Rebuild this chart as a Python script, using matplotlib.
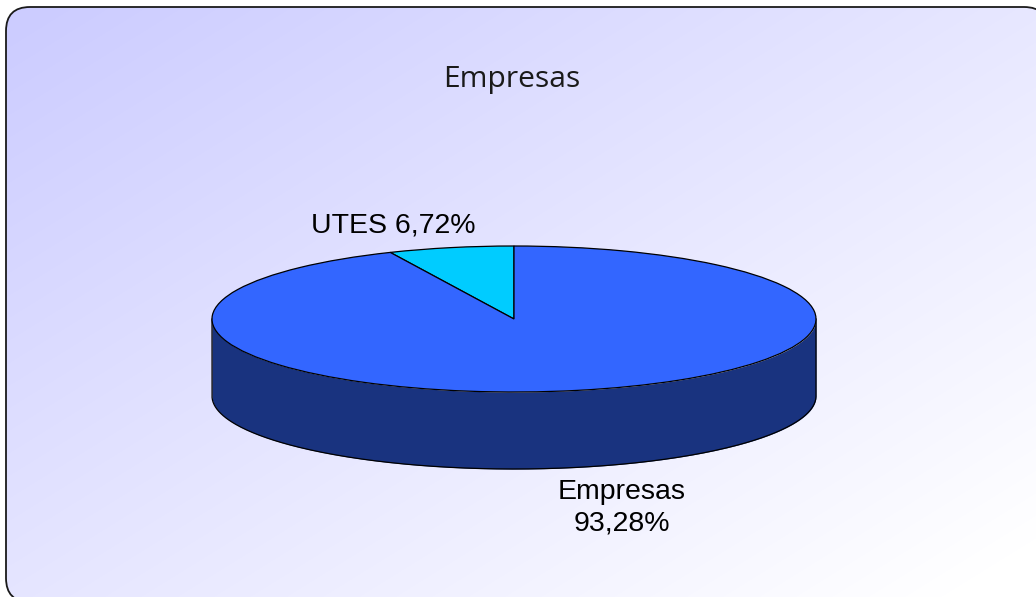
import numpy as np
import matplotlib
matplotlib.use('Agg')
import matplotlib.pyplot as plt
from matplotlib.patches import FancyBboxPatch

labels = ['UTES', 'Empresas']
values = [6.72, 93.28]
colors = ['#00CCFF', '#3366FF']
side_color = '#19337F'
title = 'Empresas'

W, H = 1036, 597
fig = plt.figure(figsize=(W / 100, H / 100), dpi=100, facecolor='white')

# fondo con degradado, recortado al marco redondeado
bg = fig.add_axes([0, 0, 1, 1])
bg.set_xlim(0, W)
bg.set_ylim(H, 0)
bg.axis('off')
yy, xx = np.mgrid[0:H, 0:W]
t = np.clip((xx * 0.62 + yy - 30) / 1150, 0, 1)
grad = np.zeros((H, W, 3))
grad[..., 0] = (204 + 51 * t) / 255
grad[..., 1] = (204 + 51 * t) / 255
grad[..., 2] = 1
im = bg.imshow(grad, extent=(0, W, H, 0), aspect='auto', zorder=1)
# relleno casi transparente: sin cara, agg recorta mal las curvas fuera del lienzo
frame = FancyBboxPatch((6, 7), 1042, 595, boxstyle='round,pad=0,rounding_size=24',
                       fc=(1, 1, 1, 0.002), ec='#1a1a1a', lw=1.3, zorder=2)
bg.add_patch(frame)
im.set_clip_path(frame)

# tarta: la elipse sale de estirar los ejes
cx, cy, rx, ry, depth = 514, 319, 302, 73, 77
ax = fig.add_axes([0, 0, 1, 1])
ax.patch.set_alpha(0)
wedges, _ = ax.pie(values, colors=colors, startangle=90, counterclock=True,
                   wedgeprops={'edgecolor': 'black', 'linewidth': 0.9})
ax.set_aspect('auto')
ax.set_xlim(-cx / rx, (W - cx) / rx)
ax.set_ylim((cy - H) / ry, cy / ry)
ax.axis('off')
for w in wedges:
    w.set_zorder(3)

theta = np.linspace(np.pi, 2 * np.pi, 300)
d = depth / ry
px = np.cos(theta)
py = np.sin(theta)
ax.fill_between(px, py, py - d, color=side_color, lw=0, zorder=2)
ax.plot(np.r_[-1, px, 1], np.r_[0, py - d, 0], color='black', lw=0.9, zorder=2.5)

fs = 20.5
sans = ['Liberation Sans', 'DejaVu Sans']
fig.text(393 / W, 1 - 226 / H, f'{labels[0]} {values[0]:.2f}%'.replace('.', ','),
         ha='center', va='center', fontsize=fs, family=sans, color='black')
fig.text(622 / W, 1 - 508 / H, f'{labels[1]}\n{values[1]:.2f}%'.replace('.', ','),
         ha='center', va='center', fontsize=fs, family=sans, color='black', linespacing=1.27)
fig.text(512 / W, 1 - 80 / H, title, ha='center', va='center', fontsize=21.6,
         family=['Open Sans', 'DejaVu Sans'], color='#1a1a1a')

fig.savefig('out.png', dpi=100)
